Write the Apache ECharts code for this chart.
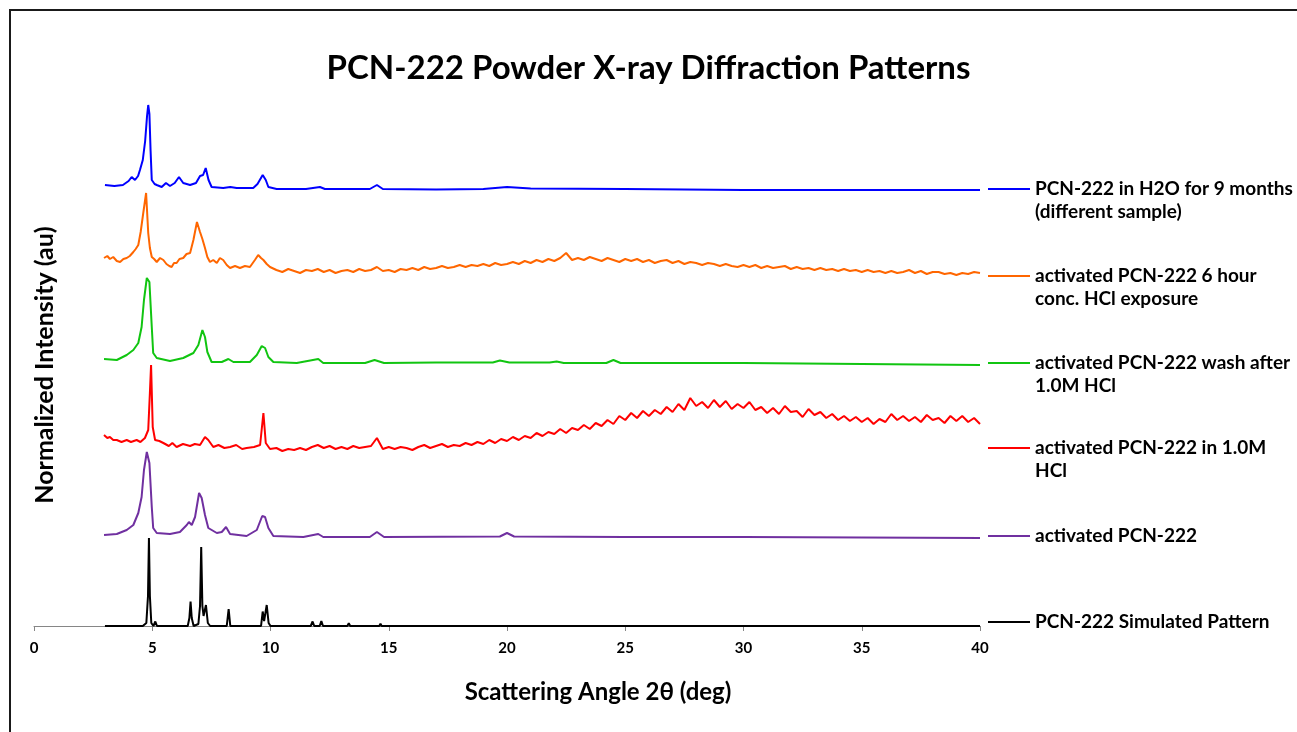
<!DOCTYPE html>
<html>
<head>
<meta charset="utf-8">
<script src="https://cdn.jsdelivr.net/npm/echarts@6/dist/echarts.min.js"></script>
<style>
  html, body { margin: 0; padding: 0; background: #fff; }
  #chart { width: 1297px; height: 732px; }
</style>
</head>
<body>
<div id="chart"></div>
<script>
// values, in offset intensity units (au)
const seriesNames = [
  "PCN-222 in H2O for 9 months\n(different sample)",
  "activated PCN-222 6 hour\nconc. HCl exposure",
  "activated PCN-222 wash after\n1.0M HCl",
  "activated PCN-222 in 1.0M\nHCl",
  "activated PCN-222",
  "PCN-222 Simulated Pattern",
];
const seriesColors = ["#0000ff", "#ff6600", "#11c511", "#ff0000", "#7030a0", "#000000"];

const xTicks = [0, 5, 10, 15, 20, 25, 30, 35, 40];

const blueData = [
  [3.0, 44.1], [3.4, 44.0], [3.76, 44.1], [4.0, 44.5], [4.13, 44.9], [4.27, 44.6], [4.4, 45.0],
  [4.48, 45.6], [4.6, 46.6], [4.7, 48.5], [4.78, 51.0], [4.83, 52.1], [4.88, 51.2], [4.93, 47.5],
  [4.98, 44.6], [5.1, 44.2], [5.19, 44.1], [5.4, 43.9], [5.58, 44.3], [5.75, 44.0], [5.95, 44.3],
  [6.13, 44.9], [6.31, 44.3], [6.6, 44.1], [6.85, 44.3], [7.02, 45.0], [7.15, 45.1], [7.26, 45.8],
  [7.38, 44.6], [7.51, 43.9], [8.0, 43.8], [8.3, 43.9], [8.57, 43.8], [9.27, 43.8], [9.45, 44.2],
  [9.67, 45.1], [9.8, 44.6], [9.91, 43.9], [10.26, 43.7], [11.5, 43.7], [12.09, 43.9], [12.3, 43.7],
  [13.36, 43.7], [14.2, 43.7], [14.5, 44.1], [14.75, 43.7], [17.0, 43.65], [19.0, 43.7], [20.0, 43.9],
  [21.0, 43.75], [25.0, 43.7], [30.0, 43.6], [35.0, 43.6], [40.0, 43.6],
];

const orangePeaks = [
  [2.96, 36.8], [3.1, 37.0], [3.21, 36.7], [3.35, 36.9], [3.5, 36.5], [3.64, 36.4], [3.78, 36.7],
  [3.92, 36.8], [4.05, 37.0], [4.2, 37.4], [4.3, 37.7], [4.41, 38.1], [4.51, 39.4],
  [4.62, 41.3], [4.74, 43.3], [4.83, 39.3], [4.9, 37.8], [4.98, 36.9], [5.08, 36.7], [5.19, 36.4],
  [5.33, 36.8], [5.47, 36.6], [5.6, 36.2], [5.72, 36.0], [5.82, 35.9], [5.92, 36.3],
  [6.03, 36.3], [6.15, 36.7], [6.31, 36.8], [6.45, 37.2], [6.6, 37.3], [6.74, 38.6], [6.89, 40.4],
  [7.02, 39.4], [7.12, 38.7], [7.23, 37.8], [7.33, 36.9], [7.44, 36.4], [7.58, 36.6], [7.73, 36.3],
  [7.86, 36.8], [8.0, 36.6], [8.15, 36.1], [8.29, 35.8], [8.5, 36.0], [8.71, 35.8], [8.92, 36.0],
  [9.13, 35.9], [9.34, 36.6], [9.48, 37.1], [9.6, 36.8], [9.7, 36.6], [9.84, 36.2], [9.98, 35.9],
];
// orange tail, one reading every 0.25 deg from 10.25 to 40
const orangeTail = [
  35.6, 35.4, 35.7, 35.5, 35.3, 35.6, 35.5, 35.7, 35.4, 35.6, 35.3, 35.5, 35.6, 35.4, 35.7, 35.5,
  35.6, 35.9, 35.5, 35.6, 35.4, 35.7, 35.6, 35.8, 35.6, 35.9, 35.7, 35.8, 36.0, 35.8, 35.9, 36.1,
  35.9, 36.1, 36.0, 36.2, 36.0, 36.3, 36.1, 36.2, 36.4, 36.2, 36.5, 36.3, 36.6, 36.4, 36.7, 36.5,
  36.8, 37.3, 36.6, 36.8, 36.6, 36.9, 36.7, 36.5, 36.8, 36.6, 36.4, 36.7, 36.5, 36.7, 36.4, 36.6,
  36.3, 36.5, 36.6, 36.3, 36.5, 36.2, 36.4, 36.3, 36.1, 36.3, 36.2, 36.0, 36.2, 36.0, 35.9, 36.1,
  35.9, 36.1, 35.8, 36.0, 35.8, 35.9, 36.0, 35.7, 35.9, 35.7, 35.8, 35.6, 35.8, 35.6, 35.7, 35.5,
  35.7, 35.5, 35.6, 35.4, 35.6, 35.4, 35.5, 35.3, 35.5, 35.3, 35.4, 35.6, 35.3, 35.5, 35.2, 35.4,
  35.4, 35.2, 35.3, 35.1, 35.3, 35.2, 35.4, 35.3,
];

const greenData = [
  [2.96, 26.7], [3.5, 26.6], [3.92, 27.1], [4.2, 27.6], [4.41, 28.3], [4.55, 29.9], [4.65, 32.6],
  [4.77, 34.8], [4.82, 34.6], [4.88, 34.4], [4.98, 29.9], [5.04, 27.3], [5.19, 26.8], [5.75, 26.5],
  [6.31, 26.8], [6.74, 27.3], [6.95, 28.1], [7.12, 29.6], [7.23, 28.9], [7.33, 27.4], [7.51, 26.4],
  [7.94, 26.4], [8.22, 26.7], [8.43, 26.4], [9.13, 26.4], [9.42, 27.1], [9.63, 28.0], [9.77, 27.8],
  [9.91, 26.9], [10.12, 26.4], [11.11, 26.3], [12.02, 26.7], [12.23, 26.3], [13.36, 26.3],
  [14.0, 26.3], [14.4, 26.6], [14.8, 26.3], [17.0, 26.35], [19.4, 26.35], [19.7, 26.55], [20.1, 26.35],
  [21.8, 26.35], [22.1, 26.45], [22.4, 26.3], [24.2, 26.3], [24.5, 26.6], [24.8, 26.3], [30.0, 26.3],
  [35.0, 26.2], [40.0, 26.1],
];

const redPeaks = [
  [2.96, 19.1], [3.1, 18.8], [3.21, 18.9], [3.35, 18.6], [3.5, 18.6], [3.7, 18.4], [3.92, 18.6],
  [4.1, 18.4], [4.34, 18.6], [4.5, 18.4], [4.69, 18.8], [4.83, 19.6],
  [4.9, 23.3], [4.95, 26.1], [5.02, 19.9], [5.12, 18.6], [5.3, 18.5], [5.47, 18.3], [5.7, 18.0],
  [5.85, 18.3], [6.03, 17.9], [6.3, 18.2], [6.6, 18.0], [6.8, 18.2],
  [7.02, 18.1], [7.23, 18.9], [7.37, 18.6], [7.58, 17.9], [7.8, 18.1], [8.05, 17.8], [8.29, 17.9],
  [8.55, 18.1], [8.8, 17.7], [8.99, 17.8], [9.3, 17.9], [9.56, 18.1],
  [9.7, 21.3], [9.8, 18.3], [9.98, 17.7],
];
// red tail, one reading every 0.25 deg from 10.25 to 40
const redTail = [
  17.8, 17.5, 17.7, 17.6, 17.8, 17.6, 17.9, 18.1, 17.8, 18.0, 17.7, 17.9, 17.7, 18.0, 17.8, 17.9,
  18.0, 18.8, 17.7, 17.9, 17.7, 17.9, 17.8, 17.6, 17.9, 18.1, 17.8, 18.0, 18.2, 17.9, 18.1, 18.0,
  18.3, 18.1, 18.4, 18.2, 18.6, 18.3, 18.7, 18.5, 18.9, 18.6, 19.0, 18.8, 19.3, 19.0, 19.4, 19.2,
  19.7, 19.3, 19.8, 19.6, 20.1, 19.7, 20.3, 20.0, 20.6, 20.2, 21.0, 20.6, 21.3, 20.8, 21.5, 21.0,
  21.6, 21.2, 21.9, 21.4, 22.2, 21.6, 22.8, 22.0, 22.4, 21.8, 22.6, 21.9, 22.5, 21.7, 22.2, 21.8,
  22.4, 21.6, 21.9, 21.3, 21.8, 21.2, 22.0, 21.4, 21.5, 20.9, 21.7, 21.1, 21.4, 20.8, 21.2, 20.6,
  21.0, 20.5, 20.9, 20.4, 20.8, 20.2, 20.7, 20.4, 21.2, 20.6, 21.0, 20.5, 20.9, 20.4, 21.1, 20.6,
  20.8, 20.3, 21.0, 20.5, 21.0, 20.4, 20.8, 20.2,
];

const purpleData = [
  [2.96, 9.1], [3.5, 9.2], [3.92, 9.6], [4.2, 10.1], [4.41, 11.3], [4.55, 12.9], [4.65, 15.6],
  [4.77, 17.4], [4.88, 16.3], [4.98, 11.9], [5.04, 9.8], [5.19, 9.3], [5.75, 9.2], [6.17, 9.4],
  [6.46, 10.1], [6.55, 10.4], [6.67, 10.1], [6.81, 10.9], [6.98, 13.3], [7.09, 12.8], [7.23, 11.1],
  [7.37, 9.8], [7.73, 9.3], [7.94, 9.4], [8.12, 9.9], [8.29, 9.2], [8.99, 9.0], [9.42, 9.6],
  [9.65, 11.0], [9.77, 10.9], [9.91, 9.8], [10.12, 9.0], [11.39, 8.9], [12.02, 9.2], [12.23, 8.9],
  [13.36, 8.9], [14.2, 8.9], [14.5, 9.4], [14.8, 8.9], [19.7, 8.95], [20.0, 9.3], [20.3, 8.95],
  [25.0, 8.9], [30.0, 8.9], [35.0, 8.85], [40.0, 8.8],
];

const blackData = [
  [3.0, 0], [4.6, 0], [4.75, 0.3], [4.82, 3.0], [4.86, 8.8], [4.9, 3.0], [4.96, 0.3], [5.05, 0],
  [5.13, 0.45], [5.2, 0], [5.62, 0], [5.68, 0.2], [5.74, 0], [6.5, 0], [6.57, 0.8], [6.62, 2.45],
  [6.67, 0.8], [6.75, 0], [6.95, 0.2], [7.02, 2.0], [7.07, 7.9], [7.12, 2.0], [7.17, 1.0], [7.27, 2.1],
  [7.35, 0.3], [7.45, 0], [8.15, 0], [8.23, 1.7], [8.3, 0], [9.6, 0], [9.67, 1.45], [9.73, 0.5],
  [9.84, 2.1], [9.92, 0.3], [10.0, 0], [10.5, 0], [10.54, 0.13], [10.58, 0], [11.35, 0], [11.39, 0.13],
  [11.43, 0], [11.7, 0], [11.78, 0.45], [11.85, 0], [12.08, 0], [12.15, 0.5], [12.22, 0], [13.25, 0],
  [13.31, 0.28], [13.37, 0], [13.85, 0], [13.9, 0.15], [13.95, 0], [14.2, 0], [14.25, 0.15], [14.3, 0],
  [14.6, 0], [14.65, 0.24], [14.7, 0], [15.2, 0], [15.24, 0.14], [15.28, 0], [17.04, 0], [17.08, 0.17],
  [17.12, 0], [19.95, 0], [19.99, 0.18], [20.03, 0], [21.3, 0], [21.34, 0.08], [21.38, 0], [22.43, 0],
  [22.47, 0.1], [22.51, 0], [23.11, 0], [23.15, 0.13], [23.19, 0], [24.86, 0], [24.9, 0.1], [24.94, 0],
  [27.36, 0], [27.4, 0.06], [27.44, 0], [29.8, 0], [29.84, 0.08], [29.88, 0], [32.36, 0], [32.4, 0.06],
  [32.44, 0], [37.4, 0], [37.44, 0.06], [37.48, 0], [40.0, 0],
];

const TAIL_START = 10.25;
const TAIL_STEP = 0.25;
function withTail(head, tail) {
  return head.concat(tail.map((v, i) => [TAIL_START + i * TAIL_STEP, v]));
}

const seriesData = [
  blueData,
  withTail(orangePeaks, orangeTail),
  greenData,
  withTail(redPeaks, redTail),
  purpleData,
  blackData,
];

// legend row positions (line y in px)
const legendLineY = [190, 277, 364, 449, 537, 623];

const chart = echarts.init(document.getElementById("chart"), null, { renderer: "canvas" });

const font = "Lato";

const option = {
  animation: false,
  backgroundColor: "#fff",
  title: {
    text: "PCN-222 Powder X-ray Diffraction Patterns",
    left: "center",
    top: 47,
    textStyle: { fontFamily: font, fontWeight: "bold", fontSize: 33, color: "#000" },
  },
  grid: { left: 34, right: 317, top: 104, bottom: 106 },
  legend: seriesNames.map((name, i) => {
    const twoLine = name.indexOf("\n") >= 0;
    return {
      data: [name],
      left: 988,
      top: legendLineY[i] - 1 - (twoLine ? 34.5 : 11.5),
      padding: 0,
      icon: "rect",
      itemWidth: 42,
      itemHeight: 2,
      itemGap: 0,
      selectedMode: false,
      // an empty first line keeps the sample line level with the first text line
      formatter: (n) => (twoLine ? " \n" + n : n),
      textStyle: {
        fontFamily: font,
        fontWeight: "bold",
        fontSize: 19,
        lineHeight: 23,
        color: "#000",
      },
    };
  }),
  xAxis: {
    type: "value",
    min: 0,
    max: 40,
    interval: 5,
    name: "Scattering Angle 2θ (deg)",
    nameLocation: "middle",
    nameGap: 54,
    nameTextStyle: {
      fontFamily: font,
      fontWeight: "bold",
      fontSize: 24,
      color: "#000",
      padding: [0, 0, 0, 182],
    },
    axisLine: { onZero: false, lineStyle: { color: "#868686", width: 1 } },
    axisTick: { length: 5, lineStyle: { color: "#868686" } },
    axisLabel: {
      fontFamily: font,
      fontWeight: "bold",
      fontSize: 15,
      color: "#000",
      margin: 15,
      formatter: (v) => (xTicks.indexOf(v) >= 0 ? String(v) : ""),
    },
    splitLine: { show: false },
  },
  yAxis: {
    type: "value",
    min: 0,
    max: 52.2,
    name: "Normalized Intensity (au)",
    nameLocation: "middle",
    nameGap: -23,
    nameTextStyle: { fontFamily: font, fontWeight: "bold", fontSize: 25, color: "#000" },
    axisLine: { show: false },
    axisTick: { show: false },
    axisLabel: { show: false },
    splitLine: { show: false },
  },
  graphic: [
    {
      type: "rect",
      silent: true,
      shape: { x: 10, y: 10, width: 1300, height: 740 },
      style: { fill: "none", stroke: "#1a1a1a", lineWidth: 2 },
    },
  ],
  series: seriesNames.map((name, i) => ({
    name,
    type: "line",
    data: seriesData[i],
    symbol: "none",
    clip: false,
    lineStyle: { width: 2, color: seriesColors[i] },
    itemStyle: { color: seriesColors[i] },
  })),
};

chart.setOption(option);
</script>
</body>
</html>
